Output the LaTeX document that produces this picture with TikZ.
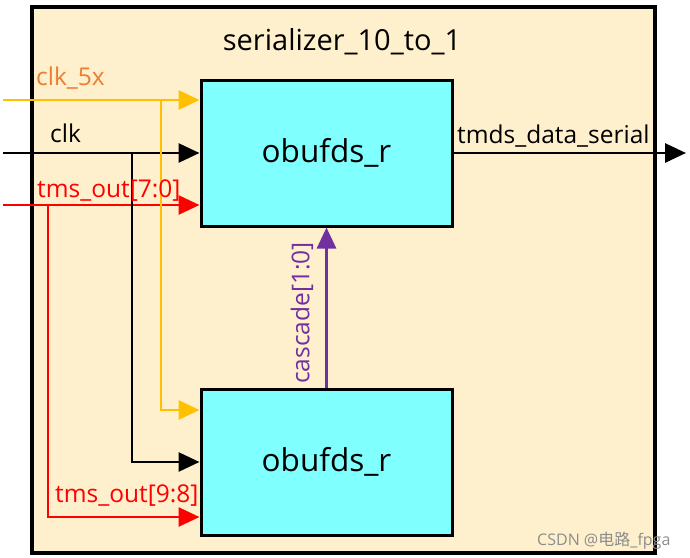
\documentclass[tikz,border=0pt]{standalone}
\usepackage{fontspec}
\setmainfont{Open Sans}
\newfontfamily\cjkfont{Noto Sans CJK SC}
\usetikzlibrary{arrows.meta}
\definecolor{bg}{HTML}{FFF0CD}
\definecolor{blk}{HTML}{80FFFF}
\definecolor{ylw}{HTML}{FFC000}
\definecolor{org}{HTML}{ED7D31}
\definecolor{rd}{HTML}{FF0000}
\definecolor{prp}{HTML}{7030A0}
\tikzset{
  sig/.style={line width=2.9pt, -{Triangle[length=21pt,width=19pt]}},
  block/.style={draw, line width=3pt, fill=blk, minimum width=251pt, minimum height=146pt, inner sep=0pt, font=\fontsize{31.5}{34}\selectfont},
  lbl/.style={inner sep=0pt, font=\fontsize{24.5}{27}\selectfont},
}
\begin{document}
\begin{tikzpicture}[x=1pt,y=-1pt]
\useasboundingbox (0,0) rectangle (690,557);
\node[draw, line width=3.5pt, fill=bg, minimum width=623pt, minimum height=546pt, anchor=north west, inner sep=0pt] (outer) at (30,5) {};
\node[lbl, font=\fontsize{29}{32}\selectfont, anchor=base] (title) at (342,50) {serializer\_10\_to\_1};

\node[block] (top) at (326.5,153) {obufds\_r};
\node[block] (bot) at (326.5,462) {obufds\_r};

% inputs
\coordinate (c5in) at (3,100);
\coordinate (clkin) at (3,153);
\coordinate (tmsin) at (3,205);
\coordinate (c5tap) at (161,100);
\coordinate (clktap) at (132,153);
\coordinate (tmstap) at (48,205);
\coordinate (outend) at (686,153);

\draw[sig, ylw] (c5in) -- ([yshift=53pt]top.west);
\draw[sig] (clkin) -- (top.west);
\draw[sig, rd] (tmsin) -- ([yshift=-52pt]top.west);

\draw[sig, ylw] (c5tap) |- ([yshift=52pt]bot.west);
\draw[sig] (clktap) |- (bot.west);
\draw[sig, rd] (tmstap) |- ([yshift=-55pt]bot.west);

\draw[sig] (top.east) -- (outend);
\draw[sig, prp] (bot.north) -- (top.south);

% labels
\node[lbl, text=org, anchor=base west] (l1) at (36,85) {clk\_5x};
\node[lbl, anchor=base west] (l2) at (50,142) {clk};
\node[lbl, text=rd, anchor=base west] (l3) at (37,197) {tms\_out[7:0]};
\node[lbl, text=rd, anchor=base west] (l4) at (55,502) {tms\_out[9:8]};
\node[lbl, anchor=base west] (l5) at (457,143) {tmds\_data\_serial};
\node[lbl, text=prp, rotate=90] (l6) at (302,313) {cascade[1:0]};

\node[inner sep=0pt, text=black!45, font=\fontsize{16}{18}\selectfont, anchor=base west] (wm) at (537,545) {CSDN @{\cjkfont 电路}\_fpga};
\end{tikzpicture}
\end{document}
